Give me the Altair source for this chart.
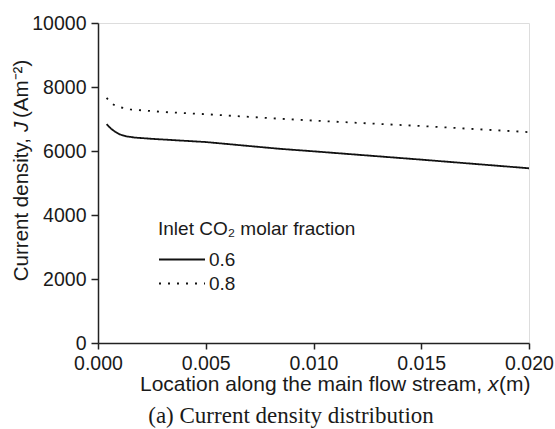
import altair as alt
import pandas as pd

# Data
x_06 = [0.0004, 0.0006, 0.0008, 0.0010, 0.0013, 0.0017, 0.0025, 0.0050, 0.0084, 0.0100, 0.0150, 0.0200]
y_06 = [6840, 6700, 6600, 6520, 6460, 6420, 6380, 6280, 6070, 5990, 5730, 5460]
x_08 = [0.0004, 0.0006, 0.0008, 0.0010, 0.0015, 0.0030, 0.0050, 0.0084, 0.0100, 0.0150, 0.0200]
y_08 = [7660, 7500, 7420, 7370, 7300, 7220, 7150, 7010, 6950, 6780, 6590]
series_names = ["0.6", "0.8"]

x_ticks = [0.0, 0.005, 0.010, 0.015, 0.020]
y_ticks = [0, 2000, 4000, 6000, 8000, 10000]

rows = []
for xv, yv in zip(x_06, y_06):
    rows.append({"x": xv, "J": yv, "frac": series_names[0]})
for xv, yv in zip(x_08, y_08):
    rows.append({"x": xv, "J": yv, "frac": series_names[1]})
df = pd.DataFrame(rows)

W, H = 431, 320
SANS = "Liberation Sans"
SERIF = "Liberation Serif"
TXT = "#1a1a1a"
TICK_FS = 19.5

lines = alt.Chart(df).mark_line(strokeWidth=1.8, color="#111111").encode(
    x=alt.X("x:Q",
            scale=alt.Scale(domain=[0, 0.02], nice=False, zero=False),
            axis=alt.Axis(values=x_ticks, format=".3f", title=None, grid=False,
                          tickSize=6, labelPadding=5, labelFontSize=TICK_FS,
                          labelFont=SANS, labelColor=TXT, domainColor="#222",
                          tickColor="#222", domainWidth=1.5, tickWidth=1.5,
                          labelFlush=False)),
    y=alt.Y("J:Q",
            scale=alt.Scale(domain=[0, 10000], nice=False),
            axis=alt.Axis(values=y_ticks, format="d", title=None, grid=False,
                          tickSize=7, labelPadding=5, labelFontSize=TICK_FS,
                          labelFont=SANS, labelColor=TXT, domainColor="#222",
                          tickColor="#222", domainWidth=1.5, tickWidth=1.5)),
    strokeDash=alt.StrokeDash("frac:N",
                              scale=alt.Scale(domain=series_names, range=[[1, 0], [2, 7]]),
                              legend=alt.Legend(
                                  title="Inlet CO₂ molar fraction",
                                  orient="none", legendX=60, legendY=197,
                                  titleFont=SANS, titleFontSize=19, titleFontWeight="normal",
                                  titleColor=TXT, titlePadding=11, titleLimit=400,
                                  labelFont=SANS, labelFontSize=19, labelColor=TXT,
                                  symbolType="stroke", symbolSize=2116, symbolStrokeWidth=1.8,
                                  symbolStrokeColor="#111111", labelOffset=3, rowPadding=4,
                                  clipHeight=19, padding=0)),
    detail="frac:N",
)

def label(text, x, y, angle=0, font=SANS, size=20.5, style="normal", align="center",
          baseline="alphabetic"):
    d = pd.DataFrame({"t": [text]})
    return alt.Chart(d).mark_text(font=font, fontSize=size, fontStyle=style, color=TXT,
                                  align=align, baseline=baseline, angle=angle).encode(
        text="t:N", x=alt.value(x), y=alt.value(y))

x_title_a = label("Location along the main flow stream,", 384, 368, size=21, align="right")
x_title_b = label("x", 390, 368, size=21, style="italic", align="left")
x_title_c = label("(m)", 401, 368, size=21, align="left")
y_title_a = label("Current density,", -76, 115, angle=270, baseline="middle", align="right")
y_title_b = label("J", -76, 109, angle=270, baseline="middle", align="left", style="italic")
y_title_c = label("(Am⁻²)", -76, 95, angle=270, baseline="middle", align="left")
caption = label("(a) Current density distribution", 193, 400, font=SERIF, size=23)

chart = alt.layer(lines, x_title_a, x_title_b, x_title_c,
                  y_title_a, y_title_b, y_title_c, caption).properties(
    width=W, height=H,
    autosize=alt.AutoSizeParams(type="none"),
    padding={"left": 98, "top": 23, "right": 26, "bottom": 86},
).configure_view(stroke="#222", strokeWidth=1.5).configure(background="white")

chart.save("out.html", embed_options={"renderer": "svg", "actions": False})
